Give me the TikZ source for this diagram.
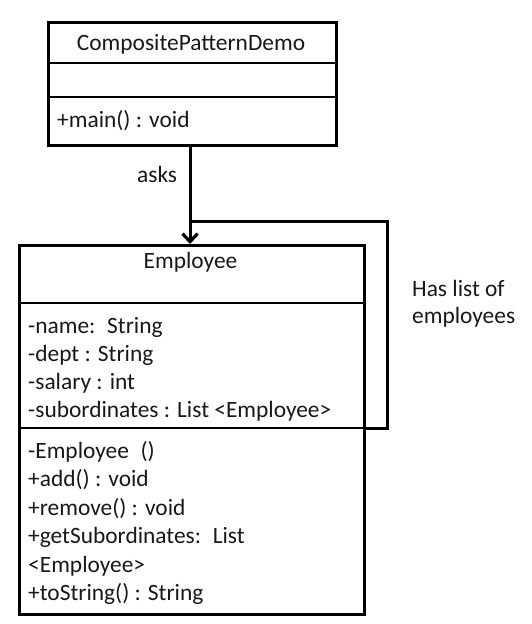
\documentclass[tikz,border=0pt]{standalone}
\usepackage{fontspec}
\setmainfont{Carlito}
\usetikzlibrary{arrows.meta}
\begin{document}
\begin{tikzpicture}[x=1pt,y=-1pt,
  box/.style={draw=black, line width=2.8pt, inner sep=0pt, anchor=north west},
  sepline/.style={draw=black, line width=2.8pt},
  txt/.style={anchor=base west, inner sep=0pt, text=black!90, font=\fontsize{23.4}{28}\selectfont},
  ctxt/.style={anchor=base, inner sep=0pt, text=black!90, font=\fontsize{23.4}{28}\selectfont},
  conn/.style={draw=black, line width=3pt}]
\useasboundingbox (0,0) rectangle (532,624);
\fill[white] (0,0) rectangle (532,624);

% CompositePatternDemo class
\node[box, minimum width=288pt, minimum height=123pt] (demo) at (47,21) {};
\draw[sepline] ([yshift=-42pt]demo.north west) -- ([yshift=-42pt]demo.north east);
\draw[sepline] ([yshift=-76pt]demo.north west) -- ([yshift=-76pt]demo.north east);
\node[ctxt] (demoname) at (191,50) {CompositePatternDemo};
\node[txt] (demomain) at (57,127) {+main() : void};

% Employee class
\node[box, minimum width=345pt, minimum height=369pt] (emp) at (18,244) {};
\draw[sepline] ([yshift=-59pt]emp.north west) -- ([yshift=-59pt]emp.north east);
\draw[sepline] ([yshift=-184pt]emp.north west) -- ([yshift=-184pt]emp.north east);
\node[ctxt] (empname) at (190.5,268) {Employee};
\node[txt] (a1) at (28,333) {-name:\enspace String};
\node[txt] (a2) at (28,361) {-dept : String};
\node[txt] (a3) at (28,389) {-salary : int};
\node[txt] (a4) at (28,417) {-subordinates : List <Employee>};
\node[txt] (m1) at (28,458) {-Employee\enspace ()};
\node[txt] (m2) at (28,486.5) {+add() : void};
\node[txt] (m3) at (28,515) {+remove() : void};
\node[txt] (m4) at (28,543.5) {+getSubordinates:\enspace List};
\node[txt] (m5) at (28,572) {<Employee>};
\node[txt] (m6) at (28,600) {+toString() : String};

% asks association
\coordinate (join) at (190,221);
\draw[conn, -{Straight Barb[length=8pt,width=15pt,line width=3.2pt]}] (demo.south -| join) -- (emp.north -| join);
\node[txt] (asks) at (137,182) {asks};

% composition loop
\draw[conn] ([yshift=-184pt]emp.north east) -- ++(22,0) |- (join);
\node[txt] (has1) at (412,296) {Has list of};
\node[txt] (has2) at (412,323) {employees};
\end{tikzpicture}
\end{document}
